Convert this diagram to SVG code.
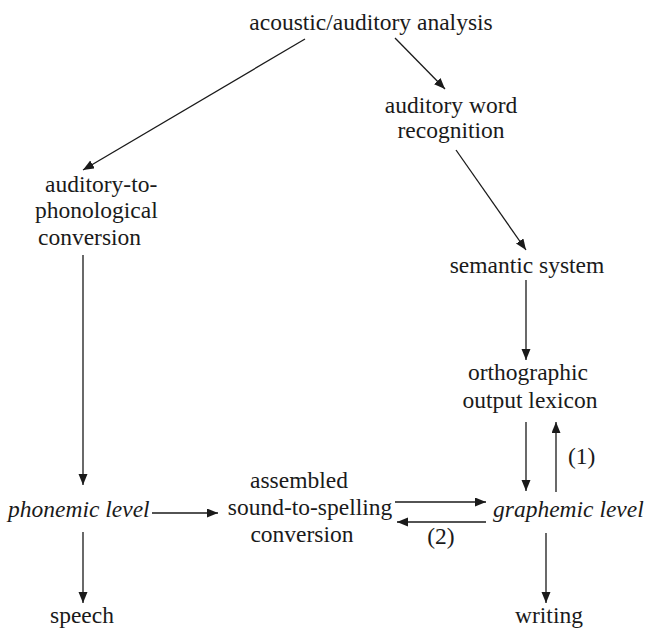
<svg xmlns="http://www.w3.org/2000/svg" width="646" height="630" viewBox="0 0 646 630" font-family="'Liberation Serif', Tinos, 'Times New Roman', 'DejaVu Serif', serif">
<style>
text{font-family:"Liberation Serif",Tinos,"Times New Roman","DejaVu Serif",serif;font-size:23.5px;fill:#1a1a1a}
.it{font-style:italic}
.c{text-anchor:middle}
.e{stroke:#1a1a1a;stroke-width:1.3;fill:none;marker-end:url(#ah)}
</style>
<defs>
<marker id="ah" markerUnits="userSpaceOnUse" markerWidth="12" markerHeight="10" refX="11" refY="4.5" orient="auto">
<path d="M0,0 L11,4.5 L0,9 z" fill="#1a1a1a"/>
</marker>
</defs>
<rect width="646" height="630" fill="#fff"/>
<g id="connectors">
<line class="e" x1="305" y1="39" x2="83" y2="170"/>
<line class="e" x1="395" y1="38" x2="445" y2="89"/>
<line class="e" x1="456" y1="150" x2="526" y2="250"/>
<line class="e" x1="526" y1="280" x2="526" y2="360"/>
<line class="e" x1="526" y1="422" x2="526" y2="491"/>
<line class="e" x1="556" y1="492" x2="556" y2="422"/>
<line class="e" x1="83" y1="255" x2="83" y2="485"/>
<line class="e" x1="152" y1="513" x2="218" y2="513"/>
<line class="e" x1="395" y1="502" x2="486" y2="502"/>
<line class="e" x1="486" y1="522" x2="397" y2="522"/>
<line class="e" x1="83" y1="532" x2="83" y2="603"/>
<line class="e" x1="546" y1="533" x2="546" y2="603"/>
</g>
<g id="acoustic"><text class="c" x="371" y="30">acoustic/auditory analysis</text></g>
<g id="word-recognition"><text class="c" x="451" y="113">auditory word</text><text class="c" x="451" y="138">recognition</text></g>
<g id="auditory-to-phonological"><text x="45" y="192">auditory-to-</text><text x="35" y="218">phonological</text><text x="38" y="245">conversion</text></g>
<g id="semantic"><text class="c" x="527" y="273">semantic system</text></g>
<g id="orthographic"><text class="c" x="528" y="380">orthographic</text><text class="c" x="530" y="408">output lexicon</text></g>
<g id="phonemic"><text class="it" x="8" y="517">phonemic level</text></g>
<g id="assembled"><text class="c" x="299" y="488">assembled</text><text class="c" x="310" y="515">sound-to-spelling</text><text class="c" x="302" y="542">conversion</text></g>
<g id="graphemic"><text class="it" x="493" y="517">graphemic level</text></g>
<g id="speech"><text class="c" x="82" y="623">speech</text></g>
<g id="writing"><text class="c" x="549" y="623">writing</text></g>
<g id="labels"><text x="568" y="464">(1)</text><text class="c" x="441" y="544">(2)</text></g>
</svg>
